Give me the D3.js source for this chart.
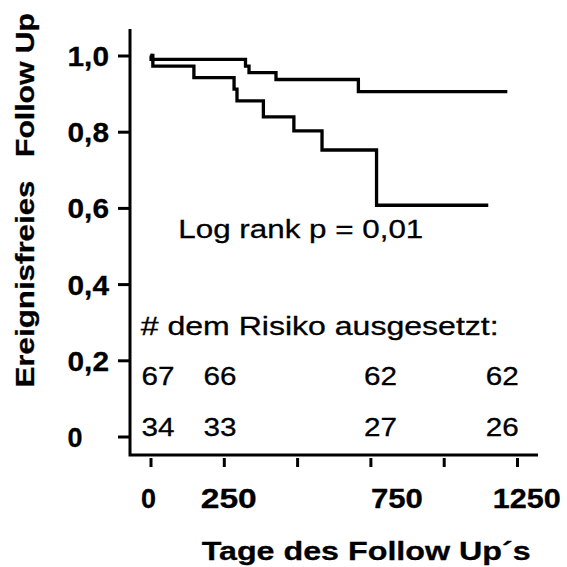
<!DOCTYPE html>
<html><head><meta charset="utf-8">
<script src="https://cdn.jsdelivr.net/npm/d3@7"></script>
<style>html,body{margin:0;padding:0;background:#fff}</style>
</head><body><svg id="c" width="567" height="567"></svg>
<script>
// Kaplan-Meier data
const upperTimes = [0, 2, 324, 336, 428, 709, 1217];
const upperSurv  = [1.0, 0.99, 0.972, 0.955, 0.937, 0.905, 0.905];
const lowerTimes = [0, 8, 148, 285, 295, 385, 489, 585, 771, 1152];
const lowerSurv  = [1.0, 0.972, 0.942, 0.912, 0.881, 0.839, 0.802, 0.752, 0.607, 0.607];

const xTicks = [0, 250, 500, 750, 1000, 1250];
const xTickLabels = ["0", "250", "", "750", "", "1250"];
const yTicks = [0, 0.2, 0.4, 0.6, 0.8, 1.0];
const yTickLabels = ["0", "0,2", "0,4", "0,6", "0,8", "1,0"];

const atRiskTimes = [0, 250, 750, 1250];
const atRiskGroup1 = [67, 66, 62, 62];
const atRiskGroup2 = [34, 33, 27, 26];

const FONT = "'Liberation Sans', Arial, Helvetica, sans-serif";
const svg = d3.select("#c");
svg.append("rect").attr("width", 567).attr("height", 567).attr("fill", "#fff");

const x = d3.scaleLinear().domain([0, 1250]).range([150.5, 517]);
const y = d3.scaleLinear().domain([0, 1]).range([436.5, 55.5]);

// axis lines
svg.append("path").attr("d", "M130,29V455H538")
  .attr("fill", "none").attr("stroke", "#000").attr("stroke-width", 3)
  .attr("stroke-linejoin", "miter");

// y axis
const gy = svg.append("g").attr("transform", "translate(130,0)")
  .call(d3.axisLeft(y).tickValues(yTicks).tickSize(12).tickSizeOuter(0)
    .tickFormat((d, i) => yTickLabels[i]));
gy.select(".domain").remove();
gy.selectAll(".tick line").attr("stroke", "#000").attr("stroke-width", 3);
gy.selectAll(".tick text")
  .attr("x", -62.5).attr("dy", "0.36em")
  .attr("text-anchor", "start")
  .attr("fill", "#000").attr("stroke", "#000").attr("stroke-width", 0.3)
  .style("font-family", FONT).style("font-weight", "bold").style("font-size", "28px")
  .attr("textLength", (d, i) => yTickLabels[i].length > 1 ? 41.5 : 15)
  .attr("lengthAdjust", "spacingAndGlyphs");

// x axis
const xLabelDx = {0: -2.5, 250: 4.5, 750: 26, 1250: 9.3};
const xLabelLen = {0: 15, 250: 56, 750: 52, 1250: 68};
const gx = svg.append("g").attr("transform", "translate(0,455)")
  .call(d3.axisBottom(x).tickValues(xTicks).tickSize(12).tickSizeOuter(0)
    .tickFormat((d, i) => xTickLabels[i]));
gx.select(".domain").remove();
gx.selectAll(".tick line").attr("y1", 3).attr("stroke", "#000").attr("stroke-width", 3);
gx.selectAll(".tick text")
  .attr("y", 52.5).attr("dy", 0)
  .attr("x", d => xLabelDx[d] || 0)
  .attr("text-anchor", "middle")
  .attr("fill", "#000").attr("stroke", "#000").attr("stroke-width", 0.3)
  .style("font-family", FONT).style("font-weight", "bold").style("font-size", "27px")
  .each(function(d) { if (xLabelLen[d]) d3.select(this).attr("textLength", xLabelLen[d]).attr("lengthAdjust", "spacingAndGlyphs"); });

// curves
const line = d3.line().x(d => x(d[0])).y(d => y(d[1])).curve(d3.curveStepAfter);
const upper = upperTimes.map((t, i) => [t, upperSurv[i]]);
const lower = lowerTimes.map((t, i) => [t, lowerSurv[i]]);
[upper, lower].forEach(s => {
  svg.append("path").datum(s).attr("d", line)
    .attr("fill", "none").attr("stroke", "#000").attr("stroke-width", 3.3)
    .attr("stroke-linejoin", "miter");
});

// texts
function txt(str, xx, yy, size, weight, len, transform, sw) {
  const t = svg.append("text").text(str)
    .attr("x", xx).attr("y", yy).attr("fill", "#000")
    .attr("stroke", "#000").attr("stroke-width", sw || 0.3)
    .style("font-family", FONT).style("font-size", size + "px").style("font-weight", weight);
  if (len) t.attr("textLength", len).attr("lengthAdjust", "spacingAndGlyphs");
  if (transform) t.attr("transform", transform);
  return t;
}
txt("Log rank p = 0,01", 178.3, 237.5, 26, "normal", 245);
txt("# dem Risiko ausgesetzt:", 140.7, 334.5, 25.5, "normal", 358);

const atRiskDx = [7.5, -3.8, 10.2, -14.7];
[[atRiskGroup1, 384.5], [atRiskGroup2, 436]].forEach(([vals, by]) => {
  svg.selectAll(null).data(vals).enter().append("text")
    .text(d => d)
    .attr("x", (d, i) => x(atRiskTimes[i]) + atRiskDx[i])
    .attr("y", by)
    .attr("text-anchor", "middle").attr("fill", "#000")
    .attr("stroke", "#000").attr("stroke-width", 0.3)
    .attr("textLength", 33).attr("lengthAdjust", "spacingAndGlyphs")
    .style("font-family", FONT).style("font-size", "25.5px");
});

// axis titles
txt("Tage des Follow Up\u00B4s", 201.7, 560, 26.5, "bold", 329);
txt("Ereignisfreies", 0, 0, 26.5, "bold", 207, "translate(33.5,387.5) rotate(-90)");
txt("Follow Up", 0, 0, 26.5, "bold", 144, "translate(33.5,157) rotate(-90)");
</script>
</body></html>
